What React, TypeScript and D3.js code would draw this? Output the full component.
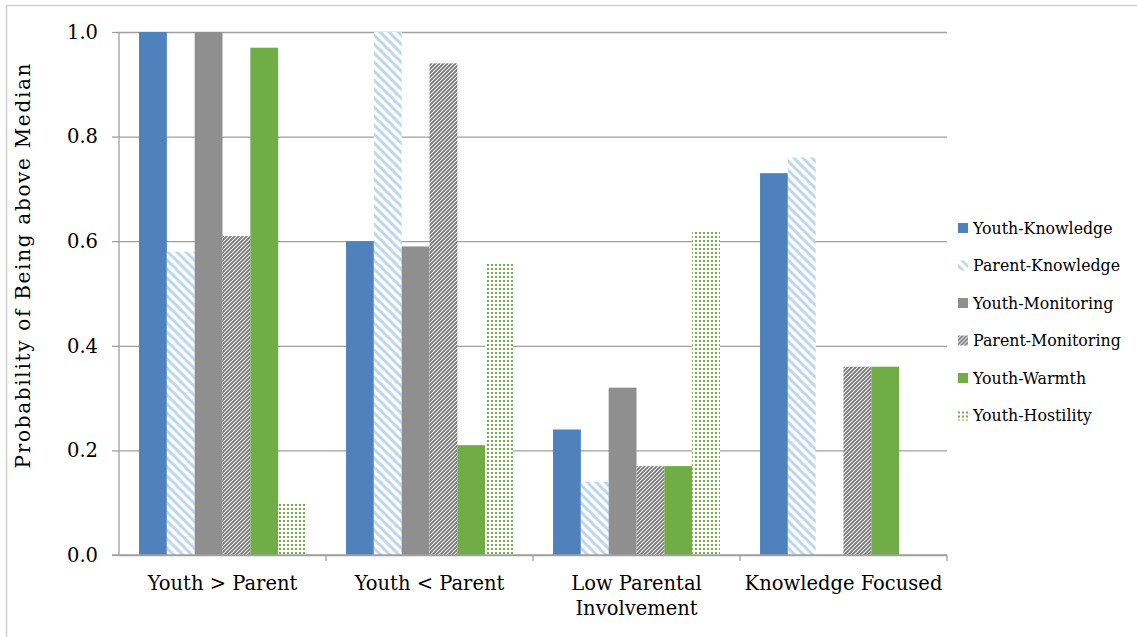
import { useEffect, useRef } from "react";
import * as d3 from "d3";

const categories = ["Youth > Parent", "Youth < Parent", "Low Parental Involvement", "Knowledge Focused"];
const categoryLines = [["Youth > Parent"], ["Youth < Parent"], ["Low Parental", "Involvement"], ["Knowledge Focused"]];
const seriesNames = [
  "Youth-Knowledge",
  "Parent-Knowledge",
  "Youth-Monitoring",
  "Parent-Monitoring",
  "Youth-Warmth",
  "Youth-Hostility",
];

const youthKnowledge = [1.0, 0.6, 0.24, 0.73];
const parentKnowledge = [0.58, 1.0, 0.14, 0.76];
const youthMonitoring = [1.0, 0.59, 0.32, null];
const parentMonitoring = [0.61, 0.94, 0.17, 0.36];
const youthWarmth = [0.97, 0.21, 0.17, 0.36];
const youthHostility = [0.1, 0.56, 0.62, null];

const yTicks = [0, 0.2, 0.4, 0.6, 0.8, 1.0];

const seriesValues: (number | null)[][] = [
  youthKnowledge,
  parentKnowledge,
  youthMonitoring,
  parentMonitoring,
  youthWarmth,
  youthHostility,
];

const fills = [
  "#4F81BD",
  "url(#pk-pattern)",
  "#8F8F8F",
  "url(#pm-pattern)",
  "#70AD47",
  "url(#yh-pattern)",
];

const FONT = "'DejaVu Serif', serif";

export default function App() {
  const svgRef = useRef<SVGSVGElement>(null);

  useEffect(() => {
    if (!svgRef.current) return;
    const svg = d3.select(svgRef.current);
    svg.selectAll("*").remove();

    const W = 1137;
    const H = 637;
    const margin = { top: 32, left: 119, right: 190, bottom: 82 };
    const width = W - margin.left - margin.right;
    const height = H - margin.top - margin.bottom;

    // patterns
    const defs = svg.append("defs");
    const pk = defs
      .append("pattern")
      .attr("id", "pk-pattern")
      .attr("patternUnits", "userSpaceOnUse")
      .attr("width", 9)
      .attr("height", 9);
    pk.append("rect").attr("width", 9).attr("height", 9).attr("fill", "#fff");
    pk.append("path")
      .attr("d", "M-2,-2 L11,11 M-2,7 L2,11 M7,-2 L11,2")
      .attr("stroke", "#BDD7EE")
      .attr("stroke-width", 3);

    const pm = defs
      .append("pattern")
      .attr("id", "pm-pattern")
      .attr("patternUnits", "userSpaceOnUse")
      .attr("width", 4)
      .attr("height", 4);
    pm.append("rect").attr("width", 4).attr("height", 4).attr("fill", "#fff");
    pm.append("path")
      .attr("d", "M-1,5 L5,-1 M-1,1 L1,-1 M3,5 L5,3")
      .attr("stroke", "#767676")
      .attr("stroke-width", 1.8);

    const yh = defs
      .append("pattern")
      .attr("id", "yh-pattern")
      .attr("patternUnits", "userSpaceOnUse")
      .attr("width", 4)
      .attr("height", 4);
    yh.append("rect").attr("width", 4).attr("height", 4).attr("fill", "#fff");
    yh.append("rect").attr("width", 2).attr("height", 2).attr("fill", "#70AD47");

    svg.append("rect").attr("width", W).attr("height", H).attr("fill", "#fff");
    // outer chart frame (cut off at right/bottom)
    svg.append("rect")
      .attr("x", 6.5)
      .attr("y", 5.5)
      .attr("width", W + 20)
      .attr("height", H + 20)
      .attr("fill", "none")
      .attr("stroke", "#D0D0D0")
      .attr("stroke-width", 1.5);

    const g = svg.append("g").attr("transform", `translate(${margin.left},${margin.top})`);

    const x0 = d3.scaleBand<string>().domain(categories).range([0, width]).paddingInner(0).paddingOuter(0);
    const x1 = d3.scaleBand<string>().domain(seriesNames).range([0, x0.bandwidth()]).paddingInner(0).paddingOuter(0.72);
    const y = d3.scaleLinear().domain([0, 1]).range([height, 0]);

    // gridlines
    g.append("g")
      .call(d3.axisLeft(y).tickValues(yTicks).tickSize(-width).tickFormat(() => ""))
      .call((s) => s.select(".domain").remove())
      .call((s) => s.selectAll(".tick line").attr("stroke", "#A0A0A0").attr("stroke-width", 1.3));

    // bars
    categories.forEach((cat, ci) => {
      seriesNames.forEach((name, si) => {
        const v = seriesValues[si][ci];
        if (v == null) return;
        g.append("rect")
          .attr("x", (x0(cat) || 0) + (x1(name) || 0))
          .attr("y", y(v))
          .attr("width", x1.bandwidth())
          .attr("height", height - y(v))
          .attr("fill", fills[si]);
      });
    });

    // y axis
    g.append("g")
      .call(d3.axisLeft(y).tickValues(yTicks).tickSize(7).tickPadding(14).tickFormat(d3.format(".1f")))
      .call((s) => s.select(".domain").attr("stroke", "#A0A0A0").attr("stroke-width", 1.3).attr("d", `M0,0V${height}`))
      .call((s) => s.selectAll(".tick line").attr("stroke", "#A0A0A0").attr("stroke-width", 1.3))
      .call((s) =>
        s.selectAll(".tick text")
          .attr("fill", "#000")
          .attr("font-family", FONT)
          .attr("font-size", "19.5px")
      );

    // x axis
    const xAxis = g.append("g").attr("transform", `translate(0,${height})`);
    xAxis.append("line")
      .attr("x1", -7)
      .attr("x2", width)
      .attr("stroke", "#A0A0A0")
      .attr("stroke-width", 1.3);
    const boundaries = categories.map((c) => (x0(c) || 0) + x0.bandwidth());
    xAxis.selectAll(".xtick")
      .data(boundaries)
      .enter()
      .append("line")
      .attr("x1", (d) => d)
      .attr("x2", (d) => d)
      .attr("y1", 0)
      .attr("y2", 6)
      .attr("stroke", "#A0A0A0")
      .attr("stroke-width", 1.3);
    categories.forEach((cat, ci) => {
      const t = xAxis.append("text")
        .attr("x", (x0(cat) || 0) + x0.bandwidth() / 2)
        .attr("y", 35)
        .attr("text-anchor", "middle")
        .attr("font-family", FONT)
        .attr("font-size", "19.5px")
        .attr("fill", "#000");
      categoryLines[ci].forEach((line, li) => {
        t.append("tspan")
          .attr("x", (x0(cat) || 0) + x0.bandwidth() / 2)
          .attr("dy", li === 0 ? 0 : 25)
          .text(line);
      });
    });

    // y title
    svg.append("text")
      .attr("transform", `translate(30,${266}) rotate(-90)`)
      .attr("text-anchor", "middle")
      .attr("font-family", FONT)
      .attr("font-size", "20px")
      .attr("textLength", 405)
      .attr("lengthAdjust", "spacing")
      .attr("fill", "#000")
      .text("Probability of Being above Median");

    // legend
    const legend = svg.append("g").attr("transform", "translate(958,228)");
    seriesNames.forEach((name, si) => {
      const row = legend.append("g").attr("transform", `translate(0,${si * 37.5})`);
      row.append("rect")
        .attr("x", 0)
        .attr("y", -5)
        .attr("width", 10)
        .attr("height", 10)
        .attr("fill", fills[si]);
      row.append("text")
        .attr("x", 15)
        .attr("y", 5.5)
        .attr("font-family", FONT)
        .attr("font-size", "15.8px")
        .attr("fill", "#000")
        .text(name);
    });
  }, []);

  return (
    <div style={{ position: "absolute", left: 0, top: 0 }}>
      <svg ref={svgRef} width={1137} height={637} style={{ display: "block" }} />
    </div>
  );
}
